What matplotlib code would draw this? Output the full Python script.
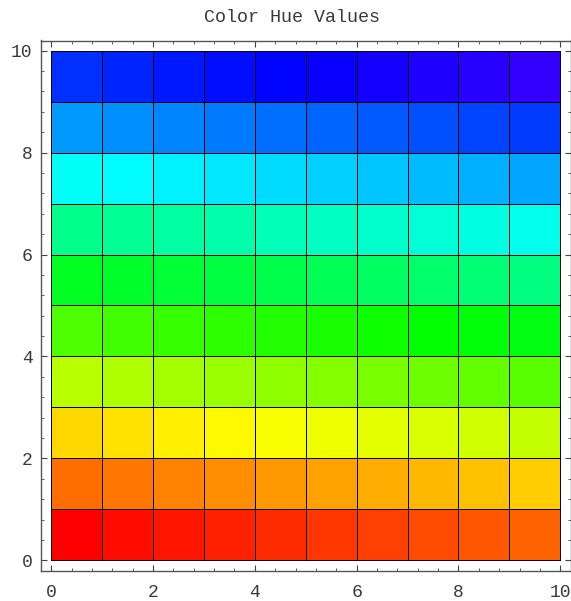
import numpy as np
import matplotlib
matplotlib.use("Agg")
from matplotlib import pyplot as plt
from matplotlib.colors import hsv_to_rgb
from matplotlib.ticker import MultipleLocator

# hue of each cell, bottom row first
hue_rows = [
    [0.000, 0.007, 0.014, 0.021, 0.028, 0.035, 0.042, 0.049, 0.057, 0.064],
    [0.071, 0.078, 0.085, 0.092, 0.099, 0.106, 0.113, 0.120, 0.127, 0.134],
    [0.141, 0.148, 0.156, 0.163, 0.170, 0.177, 0.184, 0.191, 0.198, 0.205],
    [0.212, 0.219, 0.226, 0.233, 0.240, 0.247, 0.255, 0.262, 0.269, 0.276],
    [0.283, 0.290, 0.297, 0.304, 0.311, 0.318, 0.325, 0.332, 0.339, 0.346],
    [0.354, 0.361, 0.368, 0.375, 0.382, 0.389, 0.396, 0.403, 0.410, 0.417],
    [0.424, 0.431, 0.438, 0.445, 0.453, 0.460, 0.467, 0.474, 0.481, 0.488],
    [0.495, 0.502, 0.509, 0.516, 0.523, 0.530, 0.537, 0.544, 0.552, 0.559],
    [0.566, 0.573, 0.580, 0.587, 0.594, 0.601, 0.608, 0.615, 0.622, 0.629],
    [0.636, 0.643, 0.651, 0.658, 0.665, 0.672, 0.679, 0.686, 0.693, 0.700],
]
x_edges = [0, 1, 2, 3, 4, 5, 6, 7, 8, 9, 10]
y_edges = [0, 1, 2, 3, 4, 5, 6, 7, 8, 9, 10]
tick_values = [0, 2, 4, 6, 8, 10]

hues = np.array(hue_rows)
hsv = np.stack([hues, np.ones_like(hues), np.ones_like(hues)], axis=-1)
rgb = hsv_to_rgb(hsv)

fig = plt.figure(figsize=(5.71, 6.01), dpi=100)
ax = fig.add_axes([41 / 571, 30.5 / 601, 529.5 / 571, 530 / 601])

ax.pcolormesh(x_edges, y_edges, rgb, edgecolors="black", linewidth=0.55)

ax.set_xlim(-0.2, 10.2)
ax.set_ylim(-0.2, 10.2)

ax.set_xticks(tick_values)
ax.set_yticks(tick_values)
ax.xaxis.set_minor_locator(MultipleLocator(0.4))
ax.yaxis.set_minor_locator(MultipleLocator(0.4))
ax.tick_params(which="both", direction="in", top=True, right=True, color="#444444")
ax.tick_params(which="major", length=4, width=0.8)
ax.tick_params(which="minor", length=2, width=0.6)
ax.tick_params(axis="x", pad=9.5)
ax.tick_params(axis="y", pad=6)

for lab in ax.get_xticklabels() + ax.get_yticklabels():
    lab.set_fontfamily("Liberation Mono")
    lab.set_fontsize(13)
    lab.set_color("#3a3a3a")

for sp in ax.spines.values():
    sp.set_color("#555555")
    sp.set_linewidth(1.0)

fig.text(292 / 571, 1 - 18 / 601, "Color Hue Values", ha="center", va="center",
         fontfamily="Liberation Mono", fontsize=13.2, color="#3a3a3a")

fig.savefig("out.png", dpi=100)
